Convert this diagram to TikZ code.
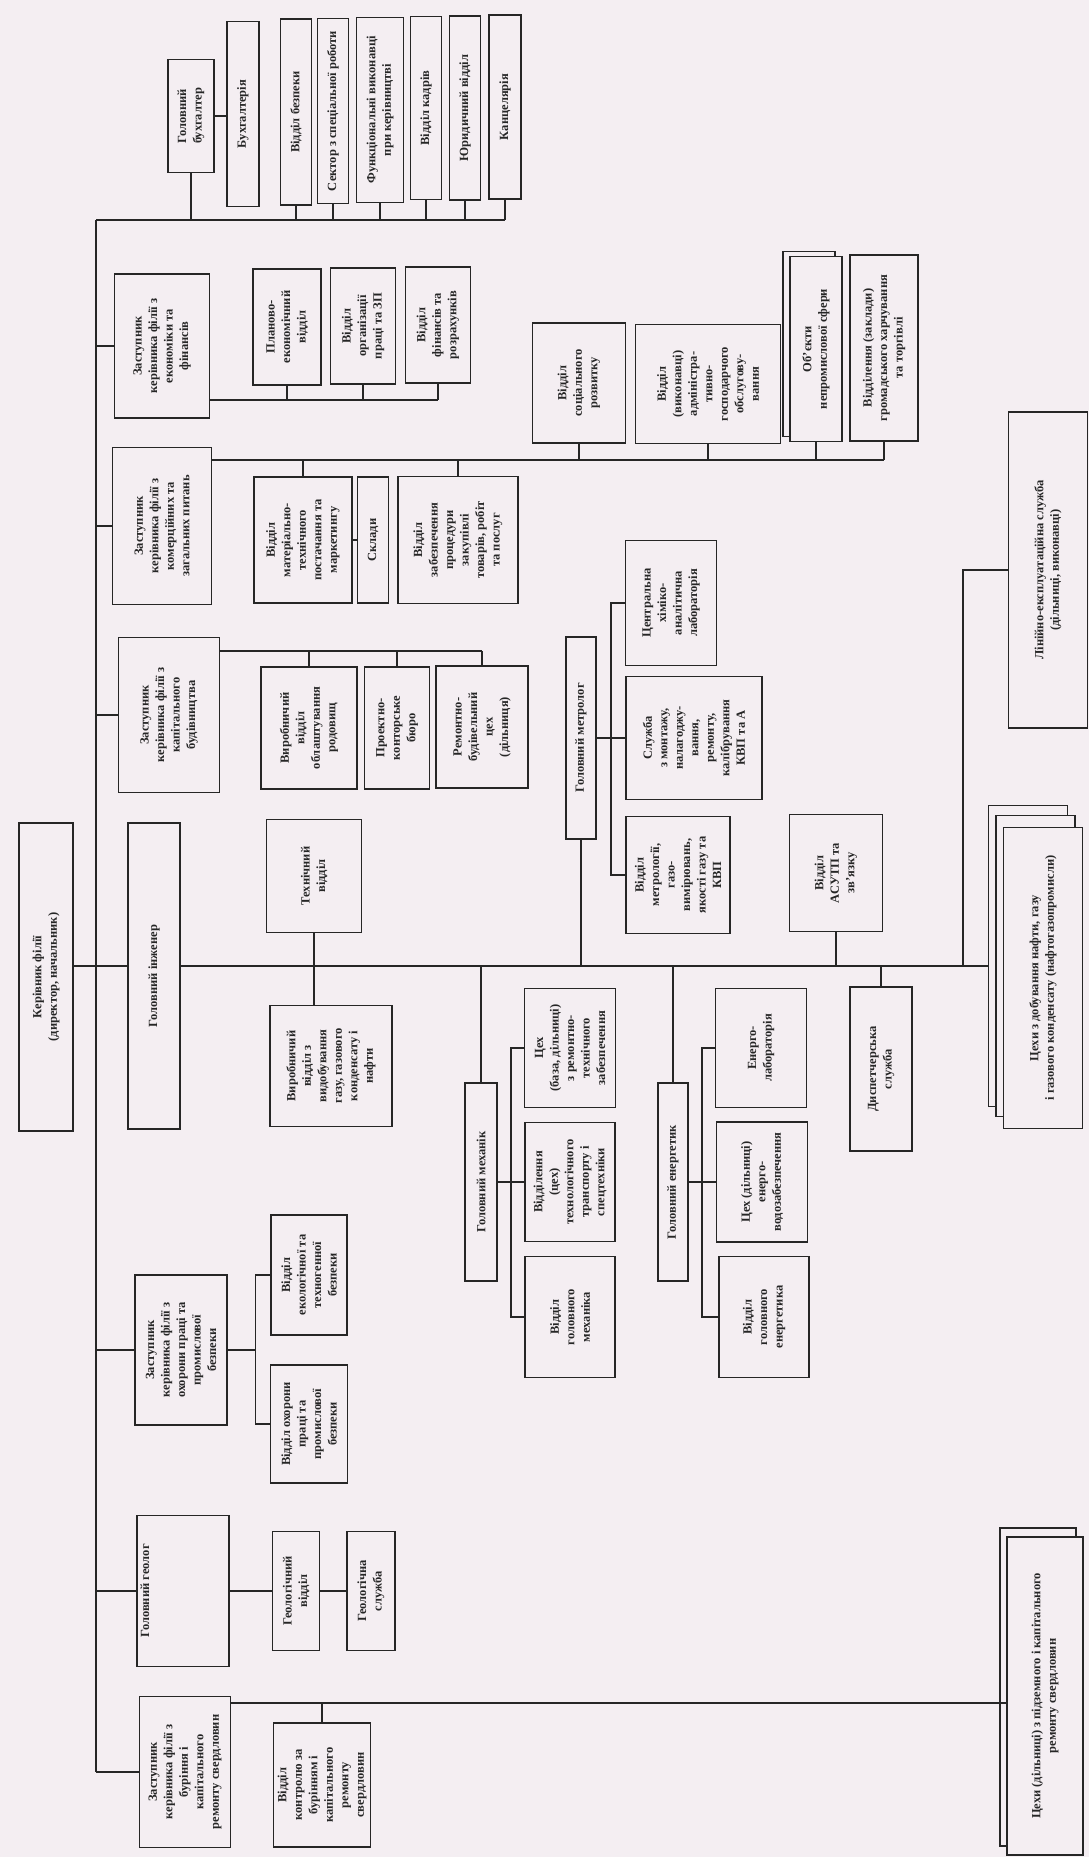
\documentclass[tikz,border=0pt]{standalone}
\usepackage{fontspec}
\setmainfont{Liberation Serif}
\usepackage{xcolor}
\usepackage{tikz}
\definecolor{paper}{HTML}{F4EEF2}
\definecolor{inkline}{HTML}{262626}
\tikzset{
  box/.style={draw=inkline, fill=paper, line width=1.2pt, rotate=90, align=center,
              inner sep=2pt, text=inkline, font=\bfseries\fontsize{12.5}{15.5}\selectfont},
  link/.style={draw=inkline, line width=1.2pt}
}

\begin{document}
\begin{tikzpicture}[x=1pt, y=-1pt]

  \fill[paper] (0,0) rectangle (1089,1857);
  \useasboundingbox (0,0) rectangle (1089,1857);

  \node[box, minimum width=308pt, minimum height=54pt] (kerivnyk) at (46,977) {Керівник філії\\(директор, начальник)};
  \node[box, minimum width=306pt, minimum height=52pt] (goling) at (154,976) {Головний інженер};

  \node[box, minimum width=113pt, minimum height=46pt] (glbuh) at (191,116) {Головний\\бухгалтер};
  \node[box, minimum width=185pt, minimum height=32pt] (buh) at (243,114) {Бухгалтерія};
  \node[box, minimum width=186pt, minimum height=31pt] (bezp) at (296,112) {Відділ безпеки};
  \node[box, minimum width=185pt, minimum height=31pt] (sekt) at (333,111) {Сектор з спеціальної роботи};
  \node[box, minimum width=185pt, minimum height=47pt] (funk) at (380,110) {Функціональні виконавці\\при керівництві};
  \node[box, minimum width=183pt, minimum height=31pt] (kadr) at (426,108) {Відділ кадрів};
  \node[box, minimum width=184pt, minimum height=31pt] (yur) at (465,108) {Юридичний відділ};
  \node[box, minimum width=184pt, minimum height=32pt] (kanc) at (505,107) {Канцелярія};

  \node[box, minimum width=144pt, minimum height=95pt] (zek) at (162,346) {Заступник\\керівника філії з\\економіки та\\фінансів};
  \node[box, minimum width=116pt, minimum height=68pt] (planovo) at (287,327) {Планово-\\економічний\\відділ};
  \node[box, minimum width=116pt, minimum height=65pt] (orgpr) at (363,326) {Відділ\\організації\\праці та ЗП};
  \node[box, minimum width=116pt, minimum height=65pt] (finance) at (438,325) {Відділ\\фінансів та\\розрахунків};

  \node[box, minimum width=157pt, minimum height=99pt] (zkom) at (162,526) {Заступник\\керівника філії з\\комерційних та\\загальних питань};
  \node[box, minimum width=126pt, minimum height=98pt] (mtp) at (303,540) {Відділ\\матеріально-\\технічного\\постачання та\\маркетингу};
  \node[box, minimum width=126pt, minimum height=31pt] (sklady) at (373,540) {Склади};
  \node[box, minimum width=127pt, minimum height=120pt] (zabezp) at (458,540) {Відділ\\забезпечення\\процедури\\закупівлі\\товарів, робіт\\та послуг};
  \node[box, minimum width=120pt, minimum height=93pt] (social) at (579,383) {Відділ\\соціального\\розвитку};
  \node[box, minimum width=119pt, minimum height=145pt] (admin) at (708,384) {Відділ\\(виконавці)\\адміністра-\\тивно-\\господарчого\\обслугову-\\вання};
  \node[box, minimum width=185pt, minimum height=52pt] (objB) at (809,344) {};
  \node[box, minimum width=185pt, minimum height=52pt] (objF) at (816,349) {Об'єкти\\непромислової сфери};
  \node[box, minimum width=186pt, minimum height=68pt] (viddil) at (884,348) {Відділення (заклади)\\громадського харчування\\та торгівлі};

  \node[box, minimum width=155pt, minimum height=101pt] (zbud) at (169,715) {Заступник\\керівника філії з\\капітального\\будівництва};
  \node[box, minimum width=122pt, minimum height=96pt] (vobl) at (309,728) {Виробничий\\відділ\\облаштування\\родовищ};
  \node[box, minimum width=122pt, minimum height=65pt] (proekt) at (397,728) {Проектно-\\конторське\\бюро};
  \node[box, minimum width=122pt, minimum height=92pt] (rembud) at (482,727) {Ремонтно-\\будівельний\\цех\\(дільниця)};

  \node[box, minimum width=113pt, minimum height=95pt] (tech) at (314,876) {Технічний\\відділ};
  \node[box, minimum width=121pt, minimum height=122pt] (vyrob) at (331,1066) {Виробничий\\відділ з\\видобування\\газу, газового\\конденсату і\\нафти};

  \node[box, minimum width=202pt, minimum height=30pt] (metrolog) at (581,738) {Головний метролог};
  \node[box, minimum width=125pt, minimum height=91pt] (centr) at (671,603) {Центральна\\хіміко-\\аналітична\\лабораторія};
  \node[box, minimum width=123pt, minimum height=136pt] (sluzhba) at (694,738) {Служба\\з монтажу,\\налагоджу-\\вання,\\ремонту,\\калібрування\\КВП та А};
  \node[box, minimum width=117pt, minimum height=104pt] (vidmetr) at (678,875) {Відділ\\метрології,\\газо-\\вимірювань,\\якості газу та\\КВП};
  \node[box, minimum width=117pt, minimum height=93pt] (asutp) at (836,873) {Відділ\\АСУТП та\\зв'язку};
  \node[box, minimum width=316pt, minimum height=79pt] (linijna) at (1048,570) {Лінійно-експлуатаційна служба\\(дільниці, виконавці)};

  \node[box, minimum width=301pt, minimum height=79pt] (cehyB) at (1028,956) {};
  \node[box, minimum width=301pt, minimum height=79pt] (cehyM) at (1035.5,966) {};
  \node[box, minimum width=301pt, minimum height=79pt] (cehyF) at (1043,978) {Цехи з добування нафти, газу\\і газового конденсату (нафтогазопромисли)};

  \node[box, minimum width=198pt, minimum height=32pt] (mech) at (481,1182) {Головний механік};
  \node[box, minimum width=119pt, minimum height=91pt] (baza) at (570,1048) {Цех\\(база, дільниці)\\з ремонтно-\\технічного\\забезпечення};
  \node[box, minimum width=119pt, minimum height=90pt] (viddilennia) at (570,1182) {Відділення\\(цех)\\технологічного\\транспорту і\\спецтехніки};
  \node[box, minimum width=121pt, minimum height=90pt] (vgm) at (570,1317) {Відділ\\головного\\механіка};

  \node[box, minimum width=198pt, minimum height=30pt] (energ) at (673,1182) {Головний енергетик};
  \node[box, minimum width=119pt, minimum height=91pt] (enlab) at (761,1048) {Енерго-\\лабораторія};
  \node[box, minimum width=120pt, minimum height=91pt] (tsekhen) at (762,1182) {Цех (дільниці)\\енерго-\\водозабезпечення};
  \node[box, minimum width=121pt, minimum height=90pt] (vge) at (764,1317) {Відділ\\головного\\енергетика};
  \node[box, minimum width=164pt, minimum height=62pt] (disp) at (881,1069) {Диспетчерська\\служба};

  \node[box, minimum width=150pt, minimum height=92pt] (zohor) at (181,1350) {Заступник\\керівника філії з\\охорони праці та\\промислової\\безпеки};
  \node[box, minimum width=120pt, minimum height=76pt] (ekol) at (309,1275) {Відділ\\екологічної та\\техногенної\\безпеки};
  \node[box, minimum width=118pt, minimum height=77pt] (ohor) at (309,1424) {Відділ охорони\\праці та\\промислової\\безпеки};

  \node[box, minimum width=151pt, minimum height=92pt, text height=10pt, text depth=78pt] (geolog) at (183,1591) {Головний геолог};
  \node[box, minimum width=119pt, minimum height=47pt] (geolvid) at (296,1591) {Геологічний\\відділ};
  \node[box, minimum width=119pt, minimum height=48pt] (geolsl) at (371,1591) {Геологічна\\служба};

  \node[box, minimum width=151pt, minimum height=91pt] (zbur) at (185,1772) {Заступник\\керівника філії з\\буріння і\\капітального\\ремонту свердловин};
  \node[box, minimum width=124pt, minimum height=97pt] (kontrol) at (322,1785) {Відділ\\контролю за\\бурінням і\\капітального\\ремонту\\свердловин};
  \node[box, minimum width=318pt, minimum height=76pt] (cehyPB) at (1038,1687) {};
  \node[box, minimum width=318pt, minimum height=76pt] (cehyPF) at (1045,1696) {Цехи (дільниці) з підземного і капітального\\ремонту свердловин};

  \coordinate (busT) at (96,220);
  \coordinate (busB) at (96,1772);
  \coordinate (ekline) at (0,400);
  \coordinate (komline) at (0,460);
  \coordinate (budline) at (0,651);
  \coordinate (engline) at (0,966);
  \coordinate (burline) at (0,1703);
  \coordinate (lnj) at (963,966);

  \draw[link] (busT) -- (busB);
  \draw[link] (busT) -- (kanc.west |- busT);
  \foreach \n in {glbuh, bezp, sekt, funk, kadr, yur, kanc}
    \draw[link] (\n.west) -- (\n.west |- busT);
  \draw[link] (glbuh.south) -- (glbuh.south -| buh.north);
  \foreach \n in {zek, zkom, zbud, zohor, geolog, zbur}
    \draw[link] (\n.north) -- (\n.north -| busT);

  \draw[link] (zek.south |- ekline) -- (finance.west |- ekline);
  \foreach \n in {planovo, orgpr, finance}
    \draw[link] (\n.west) -- (\n.west |- ekline);

  \draw[link] (zkom.south |- komline) -- (viddil.west |- komline);
  \foreach \n in {mtp, zabezp}
    \draw[link] (\n.east) -- (\n.east |- komline);
  \foreach \n in {social, admin, objF, viddil}
    \draw[link] (\n.west) -- (\n.west |- komline);
  \draw[link] (mtp.south) -- (sklady.north);

  \draw[link] (zbud.south |- budline) -- (rembud.east |- budline);
  \foreach \n in {vobl, proekt, rembud}
    \draw[link] (\n.east) -- (\n.east |- budline);

  \draw[link] (kerivnyk.south |- engline) -- (goling.north |- engline);
  \draw[link] (goling.south |- engline) -- (cehyB.north |- engline);
  \draw[link] (tech.west) -- (tech.west |- vyrob.east);
  \draw[link] (metrolog.west) -- (metrolog.west |- engline);
  \draw[link] (asutp.west) -- (asutp.west |- engline);
  \foreach \n in {mech, energ, disp}
    \draw[link] (\n.east) -- (\n.east |- engline);
  \draw[link] (linijna.north) -| (lnj);

  \draw[link] (metrolog.south) -- (sluzhba.north);
  \draw[link] (centr.north) -- ++(-14,0) |- (vidmetr.north);
  \draw[link] (mech.south) -- (viddilennia.north);
  \draw[link] (baza.north) -- ++(-13,0) |- (vgm.north);
  \draw[link] (energ.south) -- (tsekhen.north);
  \draw[link] (enlab.north) -- ++(-13,0) |- (vge.north);

  \draw[link] (ekol.north) -- ++(-15,0) coordinate (ohT) |- (ohor.north);
  \draw[link] (zohor.south) -- (zohor.south -| ohT);
  \draw[link] (geolog.south) -- (geolvid.north);
  \draw[link] (geolvid.south) -- (geolsl.north);

  \draw[link] (zbur.south |- burline) -- (cehyPF.north |- burline);
  \draw[link] (kontrol.east) -- (kontrol.east |- burline);
\end{tikzpicture}
\end{document}
